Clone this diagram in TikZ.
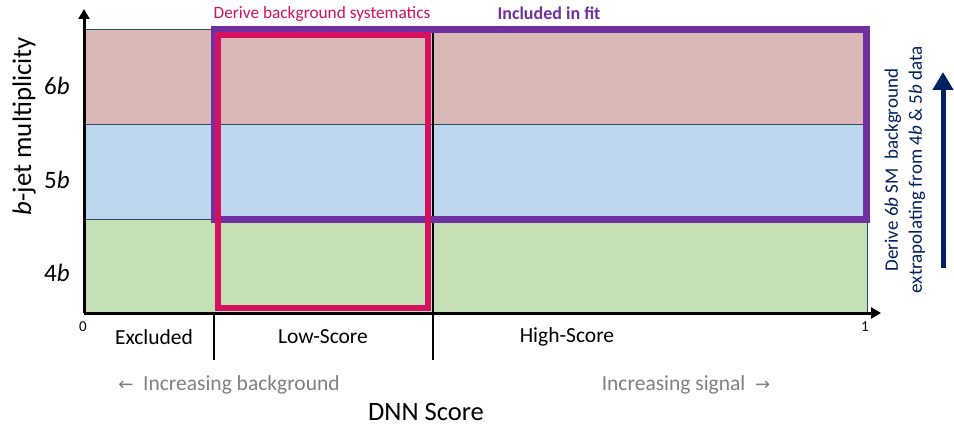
\documentclass[tikz,border=0pt]{standalone}
\usepackage{fontspec}
\setmainfont{Carlito}
\usetikzlibrary{arrows.meta}
\definecolor{bandsix}{HTML}{D9B8B6}
\definecolor{bandfive}{HTML}{BDD7EE}
\definecolor{bandfour}{HTML}{C5E0B4}
\definecolor{bandedge}{HTML}{2E4A62}
\definecolor{fitpurple}{HTML}{7030A0}
\definecolor{syspink}{HTML}{D5105F}
\definecolor{navy}{HTML}{002060}
\definecolor{graytext}{HTML}{808080}
\tikzset{
  band/.style={draw=bandedge, line width=0.8pt},
  axisline/.style={line width=3pt, -{Triangle[width=11pt,length=10pt]}},
  divider/.style={line width=2pt, black},
  lbl/.style={inner sep=0pt, font=\fontsize{21.5}{26}\selectfont},
  graylbl/.style={inner sep=0pt, text=graytext, font=\fontsize{21.5}{26}\selectfont},
  ytick/.style={inner sep=0pt, font=\fontsize{25}{30}\selectfont},
  arrowglyph/.style={font=\fontspec{DejaVu Sans}\fontsize{18}{22}\selectfont},
}
\begin{document}
\begin{tikzpicture}[x=1pt,y=-1pt]
\useasboundingbox (0,0) rectangle (954,428);
% bands
\fill[bandsix] (84,29) rectangle (867,124);
\fill[bandfive] (84,124) rectangle (867,219);
\fill[bandfour] (84,219) rectangle (867,313);
\draw[band] (84,29) -- (867,29) -- (867,313);
\draw[band] (84,124) -- (867,124);
\draw[band] (84,219) -- (867,219);
% dividers
\coordinate (d1top) at (214,313);
\coordinate (d1bot) at (214,360);
\coordinate (d2top) at (433,29);
\coordinate (d2bot) at (433,360);
\draw[divider] (d1top) -- (d1bot);
\draw[divider] (d2top) -- (d2bot);
% axes
\coordinate (origin) at (84,313);
\coordinate (yend) at (84,9);
\coordinate (xend) at (881,313);
\draw[axisline] (origin) -- (yend);
\draw[axisline] (origin) -- (xend);
% boxes
\draw[fitpurple, line width=7pt] (214,29.5) rectangle (866,219);
\draw[syspink, line width=6pt] (218,35) rectangle (428,308);
% titles
\node[inner sep=0pt, text=syspink, font=\fontsize{17.3}{20}\selectfont] (sys) at (322,14) {Derive background systematics};
\node[inner sep=0pt, text=fitpurple, font=\bfseries\fontsize{18}{21}\selectfont] (fit) at (549,13) {Included in fit};
% y labels
\node[ytick, rotate=90, font=\fontsize{26.8}{32}\selectfont] (ylab) at (24,126) {\textit{b}-jet multiplicity};
\node[ytick] (six) at (57,86) {6\textit{b}};
\node[ytick] (five) at (57,180) {5\textit{b}};
\node[ytick] (four) at (57,273) {4\textit{b}};
% ticks
\node[inner sep=0pt, font=\fontsize{15}{18}\selectfont] (zero) at (83,327) {0};
\node[inner sep=0pt, font=\fontsize{15}{18}\selectfont] (one) at (865,327) {1};
% regions
\node[lbl] (excl) at (154,337) {Excluded};
\node[lbl] (low) at (323,337) {Low-Score};
\node[lbl] (high) at (567,337) {High-Score};
\node[graylbl] (incbkg) at (229,385) {{\fontspec{DejaVu Sans}\fontsize{18}{22}\selectfont ←}\ \ Increasing background};
\node[graylbl] (incsig) at (686,385) {Increasing signal\ \ {\fontspec{DejaVu Sans}\fontsize{18}{22}\selectfont →}};
\node[inner sep=0pt, font=\fontsize{26.5}{32}\selectfont] (dnn) at (426,412) {DNN Score};
% right annotation
\node[inner sep=0pt, rotate=90, text=navy, align=center, font=\fontsize{19}{24}\selectfont] (note) at (905,170) {Derive 6\textit{b} SM\ \ background\\extrapolating from 4\textit{b} \& 5\textit{b} data};
\coordinate (arrbot) at (943,268);
\coordinate (arrtop) at (943,72);
\draw[navy, line width=5pt, -{Triangle[width=20pt,length=18pt]}] (arrbot) -- (arrtop);
\end{tikzpicture}
\end{document}
